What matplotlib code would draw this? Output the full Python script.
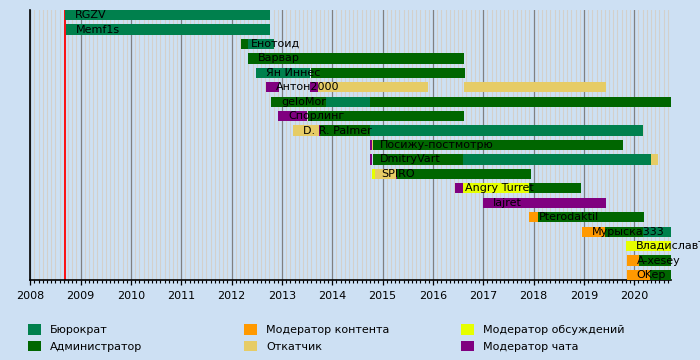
import matplotlib
matplotlib.use("Agg")
import matplotlib.pyplot as plt
from matplotlib.patches import Patch
import numpy as np

plt.rcParams['font.family'] = ['DejaVu Sans']

BG = "#cde0f3"

names = ["RGZV", "Memf1s", "Енотоид", "Варвар", "Ян Иннес", "Антон2000",
         "geloMor", "Спорлинг", "D. R. Palmer", "Посижу-постмотрю", "DmitryVart",
         "SPIRO", "Angry Turret", "Iajret", "Pterodaktil", "Мурыска333",
         "ВладиславТ", "A-xesey", "OKep"]

roles = ["Бюрократ", "Администратор", "Модератор контента",
         "Откатчик", "Модератор обсуждений", "Модератор чата"]
role_colors = ["#00804d", "#006600", "#ff9900", "#e6cc66", "#e6ff00", "#800080"]

# (row, start, end, role index)  -- decimal years
segments = [
    (0, 2008.683, 2012.763, 0),
    (1, 2008.709, 2012.763, 0),
    (2, 2012.186, 2012.320, 1),
    (2, 2012.320, 2012.848, 0),
    (3, 2012.320, 2016.617, 1),
    (4, 2012.484, 2013.563, 0),
    (4, 2013.583, 2016.637, 1),
    (5, 2012.683, 2012.935, 5),
    (5, 2013.557, 2013.722, 5),
    (5, 2013.722, 2015.902, 3),
    (5, 2016.617, 2019.432, 3),
    (6, 2012.782, 2013.875, 1),
    (6, 2013.875, 2014.749, 0),
    (6, 2014.749, 2020.730, 1),
    (7, 2012.921, 2013.497, 5),
    (7, 2013.517, 2016.617, 1),
    (8, 2013.219, 2013.736, 3),
    (8, 2013.736, 2013.755, 5),
    (8, 2013.755, 2014.749, 1),
    (8, 2014.749, 2020.174, 0),
    (9, 2014.749, 2014.789, 5),
    (9, 2014.789, 2014.819, 3),
    (9, 2014.819, 2019.776, 1),
    (10, 2014.749, 2014.789, 5),
    (10, 2014.819, 2016.597, 1),
    (10, 2016.597, 2020.330, 0),
    (10, 2020.330, 2020.470, 3),
    (11, 2014.783, 2014.849, 4),
    (11, 2014.849, 2015.267, 3),
    (11, 2015.267, 2015.280, 5),
    (11, 2015.280, 2017.955, 1),
    (12, 2016.444, 2016.603, 5),
    (12, 2016.603, 2017.914, 4),
    (12, 2017.914, 2018.941, 1),
    (13, 2016.995, 2019.440, 5),
    (14, 2017.914, 2018.081, 2),
    (14, 2018.081, 2020.194, 1),
    (15, 2018.961, 2019.418, 2),
    (15, 2019.418, 2020.174, 1),
    (15, 2020.174, 2020.730, 0),
    (16, 2019.826, 2020.730, 4),
    (17, 2019.846, 2020.104, 2),
    (17, 2020.104, 2020.730, 1),
    (18, 2019.846, 2020.312, 2),
    (18, 2020.312, 2020.730, 1),
]

years = list(range(2008, 2021))
marker_date = 2008.68
end_date = 2020.73

fig = plt.figure(figsize=(7, 3.6), dpi=100, facecolor=BG)
ax = fig.add_axes([30.3 / 700, 80 / 360, 640.7 / 700, 270 / 360])
ax.set_facecolor(BG)

for row, start, end, role in segments:
    ax.barh(row, end - start, left=start, height=0.71,
            color=role_colors[role], linewidth=0, zorder=3)

# name label placed a bit right of the first segment of each row
for i, name in enumerate(names):
    first = min(s for r, s, e, ro in segments if r == i)
    ax.annotate(name, xy=(first, i), xytext=(7.2, 0), textcoords="offset points",
                va="center", ha="left", fontsize=8, color="black",
                zorder=5, annotation_clip=False)

ax.axvline(marker_date, color="red", lw=1.3, zorder=2)

ax.set_xlim(2008, end_date)
ax.set_ylim(18.35, -0.357)
ax.set_xticks(years)
ax.set_xticklabels([str(y) for y in years])
ax.set_xticks(np.arange(2008, 2020.7, 1 / 12), minor=True)
ax.set_yticks([])

ax.grid(which="minor", axis="x", color="#d3d0cc", lw=0.8, zorder=0)
ax.grid(which="major", axis="x", color="#808080", lw=0.9, zorder=1)
ax.set_axisbelow(True)

for s in ["top", "right"]:
    ax.spines[s].set_visible(False)
ax.spines["left"].set_linewidth(1.2)
ax.spines["bottom"].set_linewidth(1.2)
ax.tick_params(which="major", axis="x", length=3.6, width=0.9, pad=4, labelsize=8)
ax.tick_params(which="minor", axis="x", length=2, width=0.8)

# legend: three columns at fixed positions
col_x = [28, 244, 461]
for c in range(3):
    handles = [Patch(facecolor=role_colors[k], edgecolor="none", label=roles[k])
               for k in (2 * c, 2 * c + 1)]
    fig.legend(handles=handles, loc="upper left",
               bbox_to_anchor=(col_x[c] / 700, 1 - 324 / 360),
               frameon=False, fontsize=8, borderpad=0, borderaxespad=0,
               handlelength=1.17, handleheight=1.08, handletextpad=0.8,
               labelspacing=0.5)

fig.savefig("out.png", dpi=100, facecolor=BG)
